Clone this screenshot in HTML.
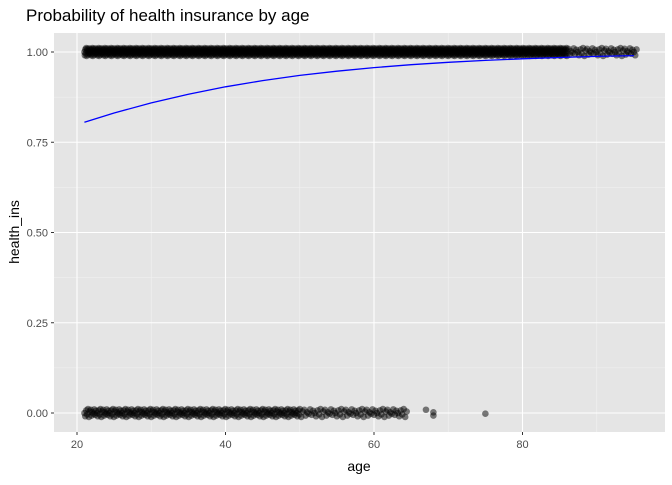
<!DOCTYPE html>
<html><head><meta charset="utf-8"><style>
body{margin:0;background:#fff;}
svg text{font-family:"Liberation Sans",sans-serif;}
</style></head><body>
<svg id="chart" width="672" height="480">
<text x="26" y="21" font-size="17" fill="#000">Probability of health insurance by age</text>
<rect x="54" y="33" width="611" height="399" fill="#e5e5e5"/>
<g id="grid"></g><g id="pts"></g><g id="curve"></g><g id="axes"></g>
<text x="359" y="471" font-size="14" text-anchor="middle" fill="#000">age</text>
<text transform="translate(19,232) rotate(-90)" font-size="14" text-anchor="middle" fill="#000">health_ins</text>
</svg>
<script>
const xTicks=[20,40,60,80];
const yTicks=[0,0.25,0.5,0.75,1];
const yTickLabels=["0.00","0.25","0.50","0.75","1.00"];
const coefIntercept=0.517;
const coefAge=0.043;
const curveAges=[21,25,30,35,40,45,50,55,60,65,70,75,80,85,90,95];
const zeroAgeSegments=[[21,50,0.12],[50,64.5,0.2]];
const zeroExtraAges=[67,68,68,75];
const onesAgeSegments=[[21,86,0.06],[86,95.5,0.18]];
const jitterPattern=[0,-0.009,0.007,-0.004,0.011,-0.011,0.004,0.009,-0.007,0.002,-0.002,0.01,-0.005,0.006];
const zeroAges=[];
zeroAgeSegments.forEach(s=>{for(let a=s[0];a<=s[1];a+=s[2])zeroAges.push(a);});
zeroExtraAges.forEach(a=>zeroAges.push(a));
const onesAges=[];
onesAgeSegments.forEach(s=>{for(let a=s[0];a<=s[1];a+=s[2])onesAges.push(a);});
const X=a=>77+(a-20)*7.425;
const Y=v=>413-v*361;
const NS="http://www.w3.org/2000/svg";
function mk(tag,attrs,parent){const e=document.createElementNS(NS,tag);for(const k in attrs)e.setAttribute(k,attrs[k]);parent.appendChild(e);return e;}
const grid=document.getElementById('grid'),axes=document.getElementById('axes');
[30,50,70,90].forEach(m=>{const l=mk('line',{x1:X(m),x2:X(m),y1:33,y2:432,stroke:'#f2f2f2','stroke-width':0.6},grid);});
for(let i=0;i<yTicks.length-1;i++){const m=(yTicks[i]+yTicks[i+1])/2;const l=mk('line',{x1:54,x2:665,y1:Y(m),y2:Y(m),stroke:'#f2f2f2','stroke-width':0.6},grid);}
xTicks.forEach(t=>{const l=mk('line',{x1:X(t),x2:X(t),y1:33,y2:432,stroke:'#fff','stroke-width':1.1},grid);
const k=mk('line',{x1:X(t),x2:X(t),y1:432,y2:435,stroke:'#333'},axes);
const tx=mk('text',{x:X(t),y:448,'font-size':11,'text-anchor':'middle',fill:'#4d4d4d'},axes);tx.textContent=t;});
yTicks.forEach((t,i)=>{const l=mk('line',{x1:54,x2:665,y1:Y(t),y2:Y(t),stroke:'#fff','stroke-width':1.1},grid);
const k=mk('line',{x1:51,x2:54,y1:Y(t),y2:Y(t),stroke:'#333'},axes);
const tx=mk('text',{x:48,y:Y(t)+4,'font-size':11,'text-anchor':'end',fill:'#4d4d4d'},axes);tx.textContent=yTickLabels[i];});
const pts=document.getElementById('pts');
function drawPts(ages,v){ages.forEach((a,i)=>{const j=jitterPattern[i%jitterPattern.length];const c=mk('circle',{cx:X(a),cy:Y(v+j),r:3.3,fill:'#000','fill-opacity':0.5},pts);});}
drawPts(onesAges,1);drawPts(zeroAges,0);
const p=a=>1/(1+Math.exp(-(coefIntercept+coefAge*a)));
const d=curveAges.map((a,i)=>(i?'L':'M')+X(a).toFixed(1)+','+Y(p(a)).toFixed(1)).join('');
const path=mk('path',{d:d,fill:'none',stroke:'#0000ff','stroke-width':1.3},document.getElementById('curve'));


</script>
</body></html>
